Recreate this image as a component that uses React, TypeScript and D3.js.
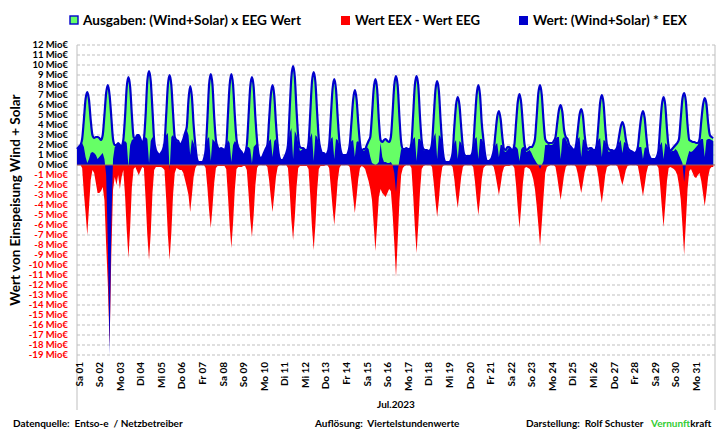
import * as d3 from 'd3';

// Tage Juli 2023
const DAY_LABELS = [
  'Sa 01', 'So 02', 'Mo 03', 'Di 04', 'Mi 05', 'Do 06', 'Fr 07', 'Sa 08', 'So 09', 'Mo 10',
  'Di 11', 'Mi 12', 'Do 13', 'Fr 14', 'Sa 15', 'So 16', 'Mo 17', 'Di 18', 'Mi 19', 'Do 20',
  'Fr 21', 'Sa 22', 'So 23', 'Mo 24', 'Di 25', 'Mi 26', 'Do 27', 'Fr 28', 'Sa 29', 'So 30', 'Mo 31',
];

// Stunden der Stuetzstellen je Tag
const HOURS = [0, 2, 4, 6, 8, 10, 12, 14, 16, 18, 20, 22];

// Ausgaben: (Wind+Solar) x EEG Wert, Mio EUR
const GREEN = [
  [1.6, 1.8, 2.0, 2.6, 4.5, 6.6, 7.3, 6.5, 4.5, 3.0, 2.7, 2.8],
  [2.8, 2.7, 2.5, 3.0, 5.0, 7.2, 8.0, 7.0, 4.8, 2.6, 2.0, 2.0],
  [2.2, 2.0, 1.9, 2.5, 4.8, 7.8, 8.8, 7.8, 5.0, 2.8, 2.6, 3.0],
  [3.0, 2.6, 2.2, 2.6, 5.0, 8.4, 9.4, 8.4, 5.5, 2.5, 1.5, 1.2],
  [1.0, 1.2, 1.5, 2.2, 5.0, 8.0, 9.0, 8.0, 5.2, 2.8, 2.5, 2.4],
  [2.0, 2.2, 2.6, 3.2, 3.8, 6.5, 7.9, 6.8, 4.0, 2.0, 0.6, 0.3],
  [0.3, 0.3, 0.6, 1.5, 4.5, 8.0, 9.1, 8.0, 4.8, 2.5, 1.8, 1.6],
  [1.7, 1.6, 1.5, 2.0, 5.0, 8.0, 9.1, 8.0, 5.0, 2.6, 1.8, 1.5],
  [1.3, 1.0, 1.2, 2.0, 4.8, 7.8, 8.8, 7.8, 4.8, 2.4, 1.0, 0.7],
  [0.8, 1.2, 1.6, 2.0, 4.5, 7.0, 8.0, 7.0, 4.2, 2.0, 0.8, 0.5],
  [0.5, 0.8, 1.2, 2.0, 5.5, 8.8, 9.9, 8.8, 5.5, 2.8, 1.8, 1.7],
  [1.7, 1.5, 1.5, 2.2, 5.2, 8.3, 9.3, 8.3, 5.3, 2.6, 1.6, 1.2],
  [1.2, 1.0, 1.2, 2.0, 4.8, 7.6, 8.6, 7.6, 4.8, 2.4, 1.3, 1.0],
  [1.0, 1.0, 1.2, 2.0, 4.2, 6.5, 7.5, 6.6, 4.2, 2.2, 1.4, 1.6],
  [1.6, 2.0, 2.4, 2.8, 5.0, 7.6, 8.6, 7.6, 4.5, 2.5, 2.3, 2.5],
  [2.6, 2.4, 2.3, 2.8, 5.2, 8.0, 8.9, 7.9, 4.8, 2.3, 1.6, 1.6],
  [1.7, 1.6, 1.6, 2.2, 5.0, 8.0, 8.9, 7.9, 4.8, 2.4, 1.6, 1.5],
  [1.5, 1.4, 1.5, 2.2, 4.8, 7.5, 8.4, 7.4, 4.5, 2.0, 0.6, 0.3],
  [0.3, 0.3, 0.5, 1.2, 3.8, 6.0, 6.8, 6.0, 3.8, 1.8, 1.0, 0.9],
  [0.9, 0.9, 1.0, 1.8, 4.5, 7.0, 8.0, 7.0, 4.2, 2.5, 1.0, 0.4],
  [0.4, 0.5, 0.8, 1.5, 3.2, 4.8, 5.4, 4.6, 2.8, 1.6, 1.5, 1.8],
  [1.8, 1.6, 1.5, 2.0, 4.2, 6.3, 7.1, 6.2, 4.0, 2.0, 1.5, 1.6],
  [1.8, 1.8, 2.0, 2.6, 4.8, 7.2, 8.0, 7.0, 4.5, 2.6, 2.3, 2.2],
  [2.2, 2.2, 2.4, 2.8, 4.2, 5.5, 6.0, 5.3, 3.5, 2.8, 2.6, 2.0],
  [1.8, 1.6, 1.5, 2.0, 3.5, 5.0, 5.6, 4.9, 3.0, 1.8, 1.6, 1.7],
  [1.7, 1.5, 1.5, 2.0, 4.0, 6.2, 7.0, 6.2, 3.8, 2.0, 1.6, 1.5],
  [1.5, 1.4, 1.5, 1.8, 2.8, 3.8, 4.3, 3.8, 2.6, 1.8, 1.5, 1.4],
  [1.3, 1.2, 1.3, 1.8, 3.4, 4.8, 5.4, 4.7, 2.8, 1.3, 0.8, 0.6],
  [0.6, 0.6, 0.8, 1.4, 3.8, 6.0, 6.8, 6.0, 3.6, 1.8, 1.4, 1.6],
  [1.8, 2.0, 2.2, 2.6, 4.6, 6.6, 7.2, 6.4, 4.0, 2.5, 2.4, 2.3],
  [2.3, 2.2, 2.2, 2.6, 4.4, 6.0, 6.7, 6.1, 4.2, 3.0, 2.8, 2.7],
];

// Wert: (Wind+Solar) * EEX, Mio EUR
const BLUE = [
  [1.6, 1.8, 2.0, 2.2, 1.8, 0.8, 0.2, 0.6, 1.2, 1.3, 1.2, 1.0],
  [0.6, 0.8, 1.0, 1.2, 0.6, -1.0, -8.0, -19.0, -6.0, 0.6, 1.8, 2.0],
  [2.2, 2.0, 1.9, 2.3, 2.4, 2.2, -0.2, 2.0, 2.5, 2.6, 2.6, 3.0],
  [3.0, 2.6, 2.2, 2.5, 2.8, 2.6, 0.2, 2.4, 2.8, 2.4, 1.5, 1.2],
  [1.0, 1.2, 1.5, 2.1, 3.0, 3.2, -0.6, 2.8, 3.0, 2.6, 2.4, 2.3],
  [2.0, 2.2, 2.6, 3.2, 3.5, 3.0, 1.0, 2.6, 2.2, 1.6, 0.6, 0.3],
  [0.3, 0.3, 0.6, 1.4, 2.6, 2.8, 0.4, 2.6, 2.4, 2.2, 1.8, 1.6],
  [1.7, 1.6, 1.5, 1.9, 2.5, 2.2, 0.3, 2.0, 2.4, 2.2, 1.7, 1.5],
  [1.3, 1.0, 1.2, 1.8, 1.8, 1.6, 0.2, 1.8, 2.0, 2.2, 1.0, 0.7],
  [0.8, 1.2, 1.5, 1.9, 2.4, 2.6, 0.8, 2.4, 2.6, 1.8, 0.8, 0.5],
  [0.5, 0.8, 1.2, 1.9, 3.2, 3.7, 0.6, 3.4, 3.0, 2.2, 1.4, 1.5],
  [1.7, 1.5, 1.5, 2.0, 2.8, 3.2, 0.4, 3.0, 2.8, 2.2, 1.4, 1.2],
  [1.2, 1.0, 1.2, 1.9, 2.6, 2.8, 0.6, 2.6, 2.5, 2.0, 1.3, 1.0],
  [1.0, 1.0, 1.2, 1.9, 2.4, 2.5, 0.8, 2.3, 2.4, 2.0, 1.4, 1.4],
  [1.5, 1.8, 1.6, 0.8, 0.2, 0.1, 0.0, 0.1, 0.3, 2.2, 0.8, 0.3],
  [0.3, 0.2, 0.2, 0.3, 0.0, -0.8, -2.7, -0.6, 0.5, 1.6, 1.5, 1.5],
  [1.7, 1.6, 1.6, 2.0, 2.6, 2.8, 0.4, 2.6, 2.6, 2.2, 1.5, 1.4],
  [1.5, 1.4, 1.5, 2.0, 2.8, 3.2, 0.6, 3.0, 2.8, 1.8, 0.6, 0.3],
  [0.3, 0.3, 0.5, 1.1, 2.2, 2.5, 0.6, 2.4, 2.2, 1.6, 0.9, 0.8],
  [0.9, 0.9, 1.0, 1.7, 2.6, 2.8, 0.6, 2.6, 2.6, 2.2, 0.9, 0.4],
  [0.4, 0.5, 0.8, 1.4, 2.0, 2.2, 0.8, 2.0, 2.0, 1.4, 1.3, 1.5],
  [1.8, 1.6, 1.5, 1.9, 1.8, 1.6, 0.4, 1.6, 1.8, 1.8, 1.3, 1.4],
  [1.5, 1.2, 0.8, 0.5, 0.2, 0.0, -0.4, 0.0, 0.4, 2.0, 2.0, 2.1],
  [2.0, 2.0, 2.2, 2.6, 2.8, 2.8, 0.6, 2.6, 2.8, 2.6, 2.2, 1.8],
  [1.8, 1.6, 1.5, 1.9, 2.6, 2.8, 0.8, 2.6, 2.4, 1.7, 1.4, 1.6],
  [1.7, 1.5, 1.5, 1.9, 2.5, 2.7, 0.8, 2.5, 2.4, 1.8, 1.3, 1.4],
  [1.5, 1.4, 1.5, 1.7, 2.2, 2.5, 1.2, 2.3, 2.2, 1.6, 1.4, 1.3],
  [1.3, 1.2, 1.3, 1.7, 1.8, 1.8, 0.6, 1.7, 1.8, 1.2, 0.8, 0.6],
  [0.6, 0.6, 0.8, 1.3, 2.0, 2.3, 0.6, 2.2, 2.0, 1.6, 1.3, 1.4],
  [1.4, 1.6, 1.4, 1.0, 0.6, 0.2, -1.7, 0.1, 0.8, 1.4, 1.3, 1.4],
  [1.6, 1.8, 2.0, 2.4, 2.6, 2.6, 0.8, 2.5, 2.6, 2.6, 2.5, 2.4],
];

// Wert EEX - Wert EEG, Mio EUR
const RED = [
  [0, 0, 0, -0.3, -2.8, -4.8, -7.0, -4.2, -1.5, -0.5, -0.8, -1.8],
  [-2.8, -2.8, -2.6, -2.2, -3.5, -8.0, -12.0, -18.0, -9.0, -2.5, -1.2, -2.0],
  [-1.0, -2.4, -1.2, -0.5, -3.0, -6.5, -9.3, -6.2, -2.2, -0.4, -0.2, -0.6],
  [-1.0, -0.6, -0.2, -0.3, -3.4, -7.0, -9.5, -6.8, -2.8, -0.5, -0.2, -0.2],
  [-0.2, -0.2, -0.3, -0.5, -3.4, -7.0, -9.5, -6.8, -3.0, -0.8, -0.3, -0.4],
  [-0.5, -0.5, -0.8, -1.5, -2.2, -3.0, -4.7, -3.0, -1.2, -0.3, 0, 0],
  [0, 0, 0, -0.3, -2.2, -4.5, -6.3, -4.2, -1.8, -0.3, -0.1, -0.1],
  [-0.1, -0.1, -0.1, -0.4, -3.0, -6.0, -8.3, -5.8, -2.5, -0.4, -0.2, -0.2],
  [-0.2, -0.1, -0.1, -0.5, -2.8, -5.4, -7.2, -5.0, -2.0, -0.3, 0, 0],
  [0, 0, 0, -0.2, -1.5, -3.2, -4.7, -3.0, -1.2, -0.2, 0, 0],
  [0, 0, 0, -0.3, -2.6, -5.5, -7.5, -5.2, -2.2, -0.3, -0.1, -0.1],
  [-0.1, -0.1, -0.1, -0.4, -3.0, -6.2, -8.5, -6.0, -2.6, -0.4, -0.1, -0.1],
  [-0.1, 0, 0, -0.3, -2.2, -4.2, -6.0, -4.0, -1.6, -0.3, 0, 0],
  [0, 0, 0, -0.2, -1.6, -3.2, -4.8, -3.2, -1.4, -0.3, -0.1, -0.2],
  [-0.4, -1.0, -1.6, -2.4, -3.5, -6.0, -8.6, -6.0, -3.2, -2.4, -2.8, -3.0],
  [-3.2, -2.8, -2.4, -2.6, -4.8, -7.8, -11.2, -7.5, -3.6, -1.0, -0.3, -0.1],
  [0, 0, 0, -0.3, -3.0, -6.2, -8.8, -6.0, -2.6, -0.4, -0.1, 0],
  [0, 0, 0, -0.2, -1.8, -3.6, -5.2, -3.5, -1.4, -0.2, 0, 0],
  [0, 0, 0, -0.2, -1.4, -3.0, -4.3, -2.8, -1.2, -0.2, 0, 0],
  [0, 0, 0, -0.2, -1.6, -3.4, -5.0, -3.4, -1.4, -0.3, -0.1, 0],
  [0, 0, 0, -0.2, -1.0, -2.0, -3.0, -2.0, -0.8, -0.2, -0.1, -0.1],
  [-0.1, 0, 0, -0.3, -2.0, -4.3, -6.3, -4.2, -1.8, -0.3, -0.2, -0.3],
  [-0.4, -0.8, -1.4, -2.4, -4.0, -6.0, -8.1, -5.8, -3.2, -0.8, -0.2, -0.1],
  [0, 0, 0, -0.2, -1.2, -2.4, -3.5, -2.3, -1.0, -0.2, 0, 0],
  [0, 0, 0, -0.2, -0.9, -1.9, -2.8, -1.8, -0.7, -0.1, 0, 0],
  [0, 0, 0, -0.2, -1.2, -2.6, -3.8, -2.5, -1.0, -0.2, -0.1, 0],
  [0, 0, 0, -0.1, -0.6, -1.4, -2.0, -1.3, -0.5, -0.1, 0, 0],
  [0, 0, 0, -0.1, -1.0, -2.1, -3.1, -2.0, -0.8, -0.1, 0, 0],
  [0, 0, 0, -0.3, -2.0, -4.2, -6.2, -4.0, -1.6, -0.3, -0.2, -0.3],
  [-0.4, -0.6, -1.0, -2.0, -3.4, -6.0, -9.0, -5.8, -2.4, -0.6, -0.4, -0.8],
  [-1.2, -1.3, -1.0, -0.8, -1.6, -2.8, -4.1, -2.8, -1.2, -0.4, -0.2, -0.2],
];

const Y_TICKS = d3.range(-19, 13);

const W = 720;
const H = 431;
const FONT = 'Lato, "Open Sans", sans-serif';

const C_GREEN = '#66ff66';
const C_BLUE = '#0000cc';
const C_RED = '#ff0000';
const C_GRID = '#bfbfbf';

type Pt = { t: number; v: number };

const toSeries = (rows: number[][]): Pt[] =>
  rows.flatMap((row, d) => row.map((v, i) => ({ t: d + HOURS[i] / 24, v })));

export default function App() {
  const x = d3.scaleLinear().domain([0, DAY_LABELS.length]).range([77, 715]);
  const y = d3.scaleLinear().domain([-19, 12]).range([355, 45]);

  const green = toSeries(GREEN);
  const blue = toSeries(BLUE);
  const red = toSeries(RED);

  const areaSmooth = d3.area<Pt>()
    .x(d => x(d.t))
    .y0(y(0))
    .y1(d => y(d.v))
    .curve(d3.curveMonotoneX);
  const lineSmooth = d3.line<Pt>()
    .x(d => x(d.t))
    .y(d => y(d.v))
    .curve(d3.curveMonotoneX);
  const areaLinear = d3.area<Pt>()
    .x(d => x(d.t))
    .y0(y(0))
    .y1(d => y(d.v));

  const [x0, x1] = x.range();

  return (
    <svg
      width={W}
      height={H}
      style={{ position: 'absolute', left: 0, top: 0, background: '#fff' }}
      fontFamily={FONT}
    >
      {/* legend */}
      <g fontSize={13} fontWeight={700} fill="#000">
        <rect x={70} y={16} width={8} height={8} fill={C_GREEN} stroke={C_BLUE} strokeWidth={1.4} />
        <text x={83} y={20.5} dy="0.35em" textLength={218} lengthAdjust="spacingAndGlyphs">
          Ausgaben: (Wind+Solar) x EEG Wert
        </text>
        <rect x={341} y={16} width={9} height={9} fill={C_RED} />
        <text x={355} y={20.5} dy="0.35em" textLength={125} lengthAdjust="spacingAndGlyphs">
          Wert EEX - Wert EEG
        </text>
        <rect x={519} y={16} width={9} height={9} fill={C_BLUE} />
        <text x={533} y={20.5} dy="0.35em" textLength={154} lengthAdjust="spacingAndGlyphs">
          Wert: (Wind+Solar) * EEX
        </text>
      </g>

      {/* grid */}
      <g>
        {Y_TICKS.map(v => (
          <line key={v} x1={x0} x2={x1} y1={y(v)} y2={y(v)} stroke={C_GRID} strokeWidth={1} strokeDasharray="3,2" />
        ))}
        <line x1={x0} x2={x0} y1={y(12)} y2={410} stroke={C_GRID} strokeWidth={1} />
        <line x1={x1} x2={x1} y1={y(12)} y2={410} stroke={C_GRID} strokeWidth={1} />
      </g>

      {/* series */}
      <path d={areaSmooth(green) || ''} fill={C_GREEN} />
      <path d={areaLinear(red) || ''} fill={C_RED} />
      <path d={areaLinear(blue) || ''} fill={C_BLUE} />
      <path d={lineSmooth(green) || ''} fill="none" stroke={C_BLUE} strokeWidth={2.2} />
      <line x1={x0} x2={x1} y1={y(0)} y2={y(0)} stroke="#a05a5a" strokeWidth={1} />

      {/* y axis labels */}
      <g fontSize={9.5} fontWeight={700} textAnchor="end">
        {Y_TICKS.map(v => (
          <text key={v} x={68} y={y(v)} dy="0.35em" fill={v < 0 ? C_RED : '#000'}>
            {`${v} Mio€`}
          </text>
        ))}
      </g>
      <text
        transform={`translate(15,${(y(12) + y(-19)) / 2}) rotate(-90)`}
        textAnchor="middle"
        dy="0.35em"
        fontSize={13.5}
        fontWeight={700}
      >
        Wert von Einspeisung Wind + Solar
      </text>

      {/* x axis labels */}
      <g fontSize={10} fontWeight={700}>
        {DAY_LABELS.map((lab, d) => (
          <text
            key={lab}
            transform={`translate(${x(d) + 2},362) rotate(-90)`}
            textAnchor="end"
            dy="0.35em"
          >
            {lab}
          </text>
        ))}
        <text x={(x0 + x1) / 2} y={404} textAnchor="middle" dy="0.35em">Jul.2023</text>
      </g>

      {/* footer */}
      <g fontSize={10} fontWeight={700} fill="#000">
        <text x={13} y={423} dy="0.35em" xmlSpace="preserve">{'Datenquelle:  Entso-e  / Netzbetreiber'}</text>
        <text x={315} y={423} dy="0.35em" xmlSpace="preserve">{'Auflösung:  Viertelstundenwerte'}</text>
        <text x={526} y={423} dy="0.35em" xmlSpace="preserve">{'Darstellung:  Rolf Schuster'}</text>
        <text x={651} y={423} dy="0.35em">
          <tspan fill="#33cc33">Vernunft</tspan>
          <tspan>kraft</tspan>
        </text>
      </g>
    </svg>
  );
}
